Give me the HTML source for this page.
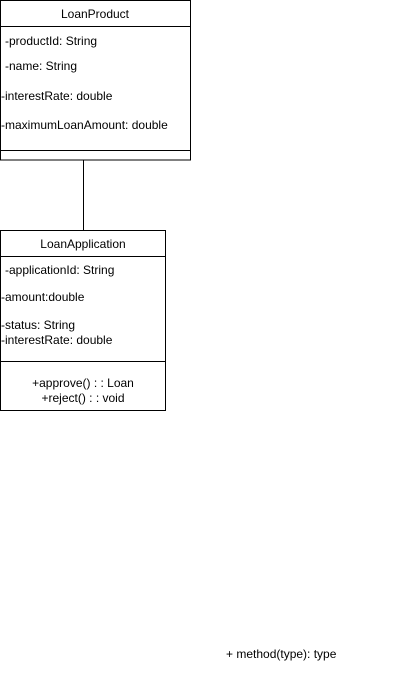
<!DOCTYPE html>
<html><head><meta charset="utf-8"><style>
html,body{margin:0;padding:0;background:#fff;width:401px;height:676px;overflow:hidden}
svg text{font-family:"Liberation Sans",Arial,sans-serif;font-size:12px;fill:#000}
</style></head><body>
<svg width="401" height="676" xmlns="http://www.w3.org/2000/svg">
<g fill="none" stroke="#000" stroke-width="1">
<rect x="0.5" y="0.5" width="190" height="159.5"/>
<line x1="0" y1="26.5" x2="191" y2="26.5"/>
<line x1="0" y1="150.5" x2="191" y2="150.5"/>
<line x1="83.5" y1="160" x2="83.5" y2="230"/>
<rect x="0.5" y="230.5" width="165" height="180"/>
<line x1="0" y1="256.5" x2="166" y2="256.5"/>
<line x1="0" y1="361.5" x2="166" y2="361.5"/>
</g>
<text x="95" y="18" text-anchor="middle">LoanProduct</text>
<text x="5" y="45">-productId: String</text>
<text x="5" y="70">-name: String</text>
<text x="1" y="100">-interestRate: double</text>
<text x="1" y="129">-maximumLoanAmount: double</text>
<text x="83" y="248" text-anchor="middle">LoanApplication</text>
<text x="5" y="274">-applicationId: String</text>
<text x="1" y="301">-amount:double</text>
<text x="1" y="329">-status: String</text>
<text x="1" y="344">-interestRate: double</text>
<text x="83" y="387" text-anchor="middle">+approve() : : Loan</text>
<text x="83" y="402" text-anchor="middle">+reject() : : void</text>
<text x="226" y="658">+ method(type): type</text>
</svg>
</body></html>
